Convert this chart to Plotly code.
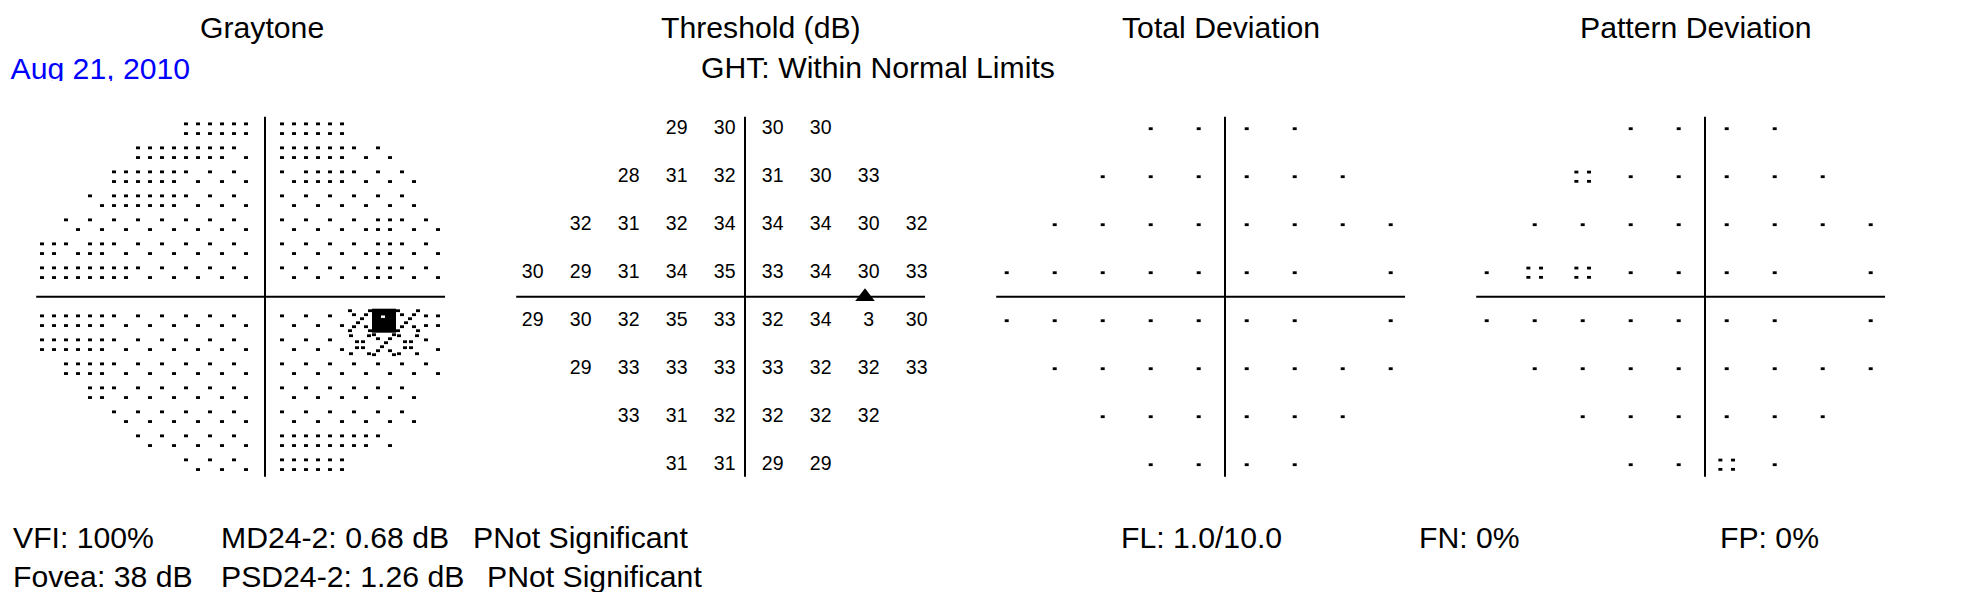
import plotly.graph_objects as go

# page is 1968x600; the html body has an 8px margin, so the figure is drawn
# 8px in from the top-left corner and sized to fit the window
PAGE_W, PAGE_H = 1968, 600
OFF = 8
W, H = PAGE_W - 2 * OFF, PAGE_H - 2 * OFF
FONT = "Liberation Sans, Arial, sans-serif"
FS = 30.2

# ------------------------------------------------------------------ data
# 24-2 test grid (degrees), right eye, rows from top
TP_X = [-9, -3, 3, 9,
        -15, -9, -3, 3, 9, 15,
        -21, -15, -9, -3, 3, 9, 15, 21,
        -27, -21, -15, -9, -3, 3, 9, 15, 21,
        -27, -21, -15, -9, -3, 3, 9, 15, 21,
        -21, -15, -9, -3, 3, 9, 15, 21,
        -15, -9, -3, 3, 9, 15,
        -9, -3, 3, 9]
TP_Y = [21] * 4 + [15] * 6 + [9] * 8 + [3] * 9 + [-3] * 9 + [-9] * 8 + [-15] * 6 + [-21] * 4

THRESHOLD = [29, 30, 30, 30,
             28, 31, 32, 31, 30, 33,
             32, 31, 32, 34, 34, 34, 30, 32,
             30, 29, 31, 34, 35, 33, 34, 30, 33,
             29, 30, 32, 35, 33, 32, 34, 3, 30,
             29, 33, 33, 33, 33, 32, 32, 33,
             33, 31, 32, 32, 32, 32,
             31, 31, 29, 29]

# '.' = within normal limits, ':' = p < 5%, ' ' = not shown (blind spot)
TOTAL_DEV_SYMBOLS = ["....", "......", "........", "....... .",
                     "....... .", "........", "......", "...."]
PATTERN_DEV_SYMBOLS = ["....", ":.....", "........", ".::.... .",
                       "....... .", "........", "......", "..:."]

BLIND_SPOT = (15, 0)

# Graytone cells (3 deg grid): 'S' lightest, 'D' light, 'L' light-mid,
# 'X' mid (cross-hatch), 'B' black
GT_ROW_Y = [21, 18, 15, 12, 9, 6, 3, -3, -6, -9, -12, -15, -18, -21]
GT_ROW_X0 = [-9, -15, -18, -21, -24, -27, -27, -27, -27, -24, -21, -18, -15, -9]
GT_ROW_LEVELS = ["DDD|DDD",
                 "DDDDS|DDDSS",
                 "DDDSSS|SDDSSS",
                 "SDDDSSS|SSSSSS",
                 "SSSSSSSS|SSSSDSS",
                 "DSDSSSSSS|SSSSDSS",
                 "DDDDSSSSS|SSSSDSS",
                 "DDDSSSSSS|SSSXBXD",
                 "DDDSSSSSS|SSSLXLS",
                 "DDSSSSSS|SSSSSSS",
                 "DSSSSSS|SSSSSS",
                 "SSSSSS|SSSSSS",
                 "SSSSS|DDDDS",
                 "SSS|DDD"]

TITLES = ["Graytone", "Threshold (dB)", "Total Deviation", "Pattern Deviation"]
TEST_DATE = "Aug 21, 2010"
GHT_TEXT = "GHT: Within Normal Limits"
STATS_ROW1 = ["VFI: 100%", "MD24-2: 0.68 dB", "PNot Significant",
              "FL: 1.0/10.0", "FN: 0%", "FP: 0%"]
STATS_ROW2 = ["Fovea: 38 dB", "PSD24-2: 1.26 dB", "PNot Significant"]

# ------------------------------------------------------------------ geometry (page pixels)
PPD = 8.0                      # pixels per degree
HALF = 30                      # axis half range (deg)
CY = 296.7                     # page row of the horizontal meridian
LINE_X = [265, 745, 1225, 1705]
MARK_SHIFT = [-1.0, 3.7, -2.3, -2.3]
H_LEFT, H_RIGHT, V_HALF = -28.6, 22.5, 22.5

def fx(p):
    return (p - OFF) / W

def fy(p):
    return 1 - (p - OFF) / H

fig = go.Figure()
lay = {}
ydom = [fy(CY + HALF * PPD), fy(CY - HALF * PPD)]
for i in range(4):
    L = LINE_X[i]
    s = MARK_SHIFT[i]
    xn = "xaxis" if i == 0 else f"xaxis{i + 1}"
    yn = "yaxis" if i == 0 else f"yaxis{i + 1}"
    lay[xn] = dict(domain=[fx(L - HALF * PPD), fx(L + HALF * PPD)], range=[-HALF, HALF],
                   visible=False, fixedrange=True)
    lay[yn] = dict(domain=ydom, range=[-HALF, HALF], visible=False, fixedrange=True)
    lay[f"xaxis{i + 5}"] = dict(domain=[fx(L + s - HALF * PPD), fx(L + s + HALF * PPD)],
                               range=[-HALF, HALF], visible=False, fixedrange=True)

def ax(i):
    return "x" if i == 1 else f"x{i}"

def ay(i):
    return "y" if i == 1 else f"y{i}"

shapes = []
for i in range(4):
    xr, yr = ax(i + 1), ay(i + 1)
    shapes.append(dict(type="line", xref=xr, yref=yr, x0=0, x1=0, y0=-V_HALF, y1=V_HALF,
                       line=dict(color="black", width=2)))
    shapes.append(dict(type="line", xref=xr, yref=yr, x0=H_LEFT, x1=H_RIGHT, y0=0, y1=0,
                       line=dict(color="black", width=2)))

DOT = dict(symbol="line-ew", size=4 / 1.4, color="black", line=dict(color="black", width=2.8))

# ---------------- graytone
dx, dy = 6 / PPD, 4.85 / PPD
def px_pat(pts):
    return [(a / PPD, b / PPD) for a, b in pts]
DIAG = [-10, -6, -2, 2, 6, 10]
PAT = {
    "S": [(-dx, dy), (dx, -dy)],
    "D": [(-dx, dy), (dx, dy), (-dx, -dy), (dx, -dy)],
    "X": px_pat([(t, t) for t in DIAG] + [(t, -t) for t in DIAG if abs(t) > 2]),
    "L": px_pat([(-9, 9), (9, 9), (-3, 3), (3, 3), (-3, -3), (3, -3), (-9, -9), (9, -9)]),
}
gx, gy, bx, by = [], [], [], []
for y, x0, lv in zip(GT_ROW_Y, GT_ROW_X0, GT_ROW_LEVELS):
    left, right = lv.split("|")
    cells = [(x0 + 3 * k, ch) for k, ch in enumerate(left)] + \
            [(3 + 3 * k, ch) for k, ch in enumerate(right)]
    for x, ch in cells:
        if ch == "B":
            bx.append(x); by.append(y)
        else:
            for ox, oy in PAT[ch]:
                gx.append(x + ox); gy.append(y + oy)

fig.add_trace(go.Scatter(x=gx, y=gy, mode="markers", marker=DOT, xaxis="x5", yaxis="y",
                         hoverinfo="skip", showlegend=False, cliponaxis=False))
fig.add_trace(go.Scatter(x=bx, y=by, mode="markers", xaxis="x5", yaxis="y",
                         marker=dict(symbol="square", size=24, color="black", line=dict(width=0)),
                         hoverinfo="skip", showlegend=False, cliponaxis=False))
# small light speck inside the black cell
fig.add_trace(go.Scatter(x=[v - 1 / PPD for v in bx], y=[v + 4 / PPD for v in by], mode="markers",
                         xaxis="x5", yaxis="y",
                         marker=dict(symbol="line-ew", size=4 / 1.4, color="white",
                                     line=dict(color="white", width=2.5)),
                         hoverinfo="skip", showlegend=False, cliponaxis=False))

# ---------------- threshold
fig.add_trace(go.Scatter(x=TP_X, y=TP_Y, mode="text", text=[str(v) for v in THRESHOLD],
                         textposition="middle center", xaxis="x6", yaxis="y2",
                         textfont=dict(family=FONT, size=19.5, color="black"),
                         hoverinfo="skip", showlegend=False, cliponaxis=False))
fig.add_trace(go.Scatter(x=[BLIND_SPOT[0]], y=[BLIND_SPOT[1]], mode="markers", xaxis="x2", yaxis="y2",
                         marker=dict(symbol="triangle-up", size=17, color="black", line=dict(width=0)),
                         hoverinfo="skip", showlegend=False, cliponaxis=False))

# ---------------- deviation maps
qx, qy = 0.79, 0.58
for sym_rows, xa, ya in [(TOTAL_DEV_SYMBOLS, "x7", "y3"), (PATTERN_DEV_SYMBOLS, "x8", "y4")]:
    flat = "".join(sym_rows)
    px, py = [], []
    for x, y, ch in zip(TP_X, TP_Y, flat):
        if ch == ".":
            px.append(x); py.append(y)
        elif ch == ":":
            for ox, oy in [(-qx, qy), (qx, qy), (-qx, -qy), (qx, -qy)]:
                px.append(x + ox); py.append(y + oy)
    fig.add_trace(go.Scatter(x=px, y=py, mode="markers", marker=DOT, xaxis=xa, yaxis=ya,
                             hoverinfo="skip", showlegend=False, cliponaxis=False))

# ---------------- date (clipped just below its baseline like the reference)
CLIP_Y = 81
lay["xaxis9"] = dict(domain=[0, 0.2], range=[OFF, OFF + 0.2 * W], visible=False, fixedrange=True)
lay["yaxis9"] = dict(domain=[fy(CLIP_Y), 1], range=[CLIP_Y, OFF], visible=False, fixedrange=True)
fig.add_trace(go.Scatter(x=[10.5], y=[71.3], mode="text", text=[TEST_DATE], textposition="middle right",
                         textfont=dict(family=FONT, size=FS, color="#0000ff"),
                         xaxis="x9", yaxis="y9", cliponaxis=True, hoverinfo="skip", showlegend=False))

# ---------------- texts
anns = []
def ann(text, x, y, anchor="left", size=FS, color="black"):
    anns.append(dict(text=text, x=fx(x), y=fy(y), xref="paper", yref="paper",
                     xanchor=anchor, yanchor="middle", showarrow=False,
                     font=dict(family=FONT, size=size, color=color)))

for t, cx in zip(TITLES, [261.7, 760.5, 1220.5, 1695.6]):
    ann(t, cx, 27.7, anchor="center")
ann(GHT_TEXT, 699, 67)
for t, x in zip(STATS_ROW1, [10.5, 219, 471, 1119, 1417, 1718]):
    ann(t, x, 537)
for t, x in zip(STATS_ROW2, [10.5, 219, 485]):
    ann(t, x, 576)

fig.update_layout(width=W, height=H, margin=dict(l=0, r=0, t=0, b=0),
                  paper_bgcolor="white", plot_bgcolor="rgba(0,0,0,0)",
                  shapes=shapes, annotations=anns, showlegend=False, **lay)
fig.write_html("out.html")
